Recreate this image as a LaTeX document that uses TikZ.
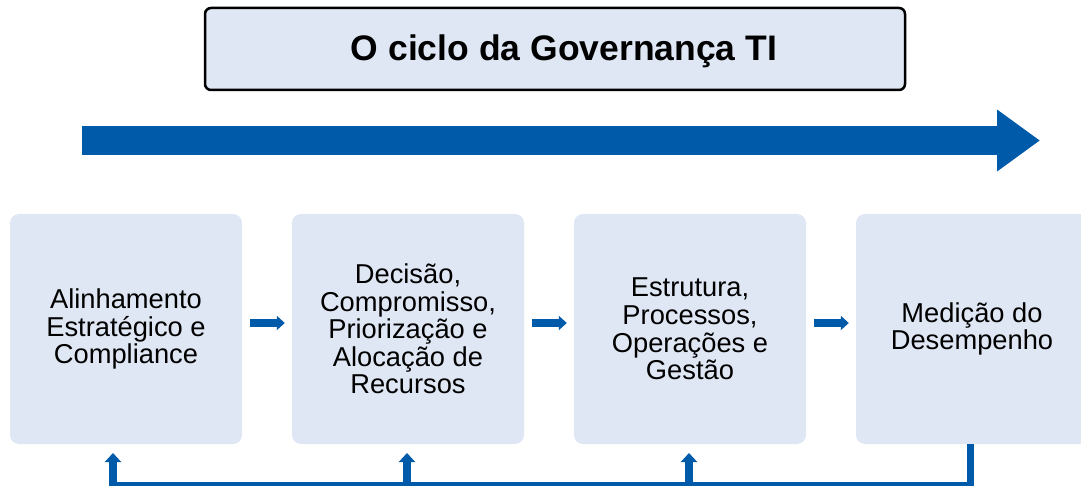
\documentclass[tikz,border=0pt]{standalone}
\usepackage{fontspec}
\setmainfont{Liberation Sans}
\usetikzlibrary{arrows.meta}
\definecolor{boxfill}{HTML}{E0E7F4}
\definecolor{arrowblue}{HTML}{005AAA}
\begin{document}
\begin{tikzpicture}[x=1pt,y=-1pt,
  titlebox/.style={draw=black,line width=2.5pt,fill=boxfill,rounded corners=6pt,
    minimum width=700pt,minimum height=82pt,inner sep=0pt,
    font=\fontsize{35.5}{40}\selectfont\bfseries},
  stepbox/.style={fill=boxfill,rounded corners=9pt,minimum width=232pt,minimum height=230pt,
    inner sep=0pt,align=center,font=\fontsize{27.3}{27.6}\selectfont},
  bigarrow/.style={draw=arrowblue,line width=29pt,-{Triangle[length=43pt,width=59pt]}},
  smallarrow/.style={draw=arrowblue,line width=8pt,-{Triangle[length=8pt,width=14pt]}},
  fbline/.style={draw=arrowblue,line width=7pt},
  fbarrow/.style={draw=arrowblue,line width=8pt,-{Triangle[length=9pt,width=16pt]}}
]
\useasboundingbox (0,0) rectangle (1081,486);
\node[titlebox] (title) at (555,49) {};
\node[font=\fontsize{35.5}{40}\selectfont\bfseries,inner sep=0pt] (titletext) at (564,51.5) {O ciclo da Governança TI};
\coordinate (bigL) at (82,140.5);
\coordinate (bigR) at (1040,140.5);
\draw[bigarrow] (bigL) -- (bigR);

\node[stepbox] (b1) at (126,329) {Alinhamento\\Estratégico e\\Compliance};
\node[stepbox] (b2) at (408,329) {Decisão,\\Compromisso,\\Priorização e\\Alocação de\\Recursos};
\node[stepbox] (b3) at (690,329) {Estrutura,\\Processos,\\Operações e\\Gestão};
\node[stepbox] (b4) at (972,329) {Medição do\\Desempenho};

\draw[smallarrow] ([xshift=8pt,yshift=6pt]b1.east) -- ([xshift=-7pt,yshift=6pt]b2.west);
\draw[smallarrow] ([xshift=8pt,yshift=6pt]b2.east) -- ([xshift=-7pt,yshift=6pt]b3.west);
\draw[smallarrow] ([xshift=8pt,yshift=6pt]b3.east) -- ([xshift=-7pt,yshift=6pt]b4.west);

\coordinate (fbR) at (970,485);
\coordinate (fbL) at (113,485);
\coordinate (fb2) at (407,485);
\coordinate (fb3) at (689,485);
\coordinate (u1) at (113,453);
\coordinate (u2) at (407,453);
\coordinate (u3) at (689,453);
\draw[fbline] (b4.south -| fbR) -- (fbR) -- ([xshift=-3.5pt]fbL);
\draw[fbarrow] ([yshift=-3.5pt]fbL) -- (u1);
\draw[fbarrow] (fb2) -- (u2);
\draw[fbarrow] (fb3) -- (u3);
\end{tikzpicture}
\end{document}
